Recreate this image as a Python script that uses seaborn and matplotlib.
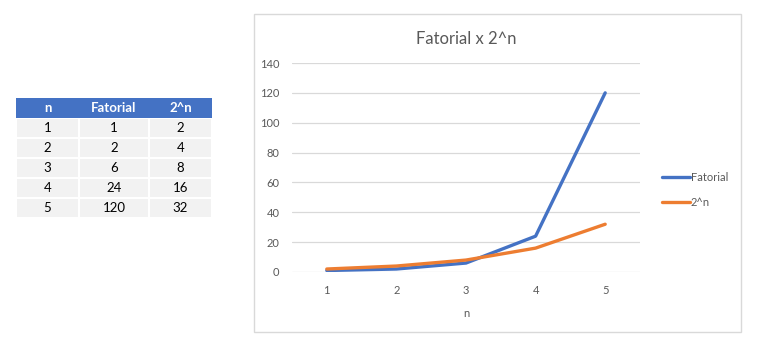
import matplotlib
matplotlib.use("Agg")
import matplotlib.pyplot as plt
import seaborn as sns
import pandas as pd
from matplotlib.patches import Rectangle

n_values = [1, 2, 3, 4, 5]
fatorial = [1, 2, 6, 24, 120]
pot2 = [2, 4, 8, 16, 32]
series_names = ["Fatorial", "2^n"]
col_headers = ["n", "Fatorial", "2^n"]
y_ticks = [0, 20, 40, 60, 80, 100, 120, 140]
title = "Fatorial x 2^n"

sns.set_theme(style="white")
plt.rcParams['font.family'] = ['Lato', 'DejaVu Sans']

W, H = 757, 340
fig = plt.figure(figsize=(W / 100, H / 100), dpi=100)
fig.patch.set_facecolor("white")

def fx(px):
    return px / W

def fy(py):
    return 1 - py / H

# ---- table on the left ----
col_edges = [16, 79, 149, 212]
row_edges = [98, 118, 138, 158, 178, 198, 218]
header_color = "#4472C4"
cell_color = "#F2F2F2"
fig.add_artist(Rectangle((fx(col_edges[0]), fy(row_edges[1])),
                         fx(col_edges[-1] - col_edges[0]), fy(row_edges[0]) - fy(row_edges[1]),
                         transform=fig.transFigure, facecolor=header_color, edgecolor="none"))
for ci, h in enumerate(col_headers):
    cx = (col_edges[ci] + col_edges[ci + 1]) / 2
    cy = (row_edges[0] + row_edges[1]) / 2
    fig.text(fx(cx), fy(cy), h, ha="center", va="center", color="white",
             fontsize=9.5, fontweight="bold")
rows = list(zip(n_values, fatorial, pot2))
for ri, row in enumerate(rows):
    top, bot = row_edges[ri + 1], row_edges[ri + 2]
    for ci, val in enumerate(row):
        l, r = col_edges[ci], col_edges[ci + 1]
        fig.add_artist(Rectangle((fx(l + 1), fy(bot - 1)), fx(r - l - 2), fy(top + 1) - fy(bot - 1),
                                 transform=fig.transFigure, facecolor=cell_color, edgecolor="none"))
        fig.text(fx((l + r) / 2), fy((top + bot) / 2), str(val), ha="center", va="center",
                 color="black", fontsize=9.5)

# ---- chart border ----
fig.add_artist(Rectangle((fx(254), fy(332)), fx(741 - 254), fy(14) - fy(332),
                         transform=fig.transFigure, facecolor="white", edgecolor="#D9D9D9",
                         linewidth=1.0, zorder=0))

# ---- chart ----
df = pd.DataFrame({
    "n": n_values * 2,
    "value": fatorial + pot2,
    "series": [series_names[0]] * len(n_values) + [series_names[1]] * len(n_values),
})

ax = fig.add_axes([fx(292), fy(272), fx(640 - 292), fy(63) - fy(272)])
ax.set_facecolor("none")
sns.lineplot(data=df, x="n", y="value", hue="series", ax=ax,
             palette=["#4472C4", "#ED7D31"], linewidth=2.4, legend=True)
ax.set_xlim(0.5, 5.5)
ax.set_ylim(0, 140)
ax.set_yticks(y_ticks)
ax.set_xticks(n_values)
ax.grid(axis="y", color="#D9D9D9", linewidth=0.9)
ax.set_axisbelow(True)
for s in ax.spines.values():
    s.set_visible(False)
ax.tick_params(axis="both", length=0, labelsize=8, labelcolor="#595959")
ax.tick_params(axis="y", pad=9)
ax.tick_params(axis="x", pad=9)
ax.set_xlabel("n", fontsize=8, color="#595959", labelpad=9)
ax.set_ylabel("")
fig.text(fx(466), fy(39), title, ha="center", va="center", fontsize=12, color="#595959")

handles, labels = ax.get_legend_handles_labels()
leg = ax.legend(handles, labels, loc="center left", bbox_to_anchor=(fx(652), fy(190)),
                bbox_transform=fig.transFigure, frameon=False, fontsize=8,
                handlelength=2.5, handletextpad=0.1, labelspacing=1.2)
for t in leg.get_texts():
    t.set_color("#595959")
for l in leg.get_lines():
    l.set_linewidth(2.4)

fig.savefig("out.png", dpi=100, facecolor="white")
